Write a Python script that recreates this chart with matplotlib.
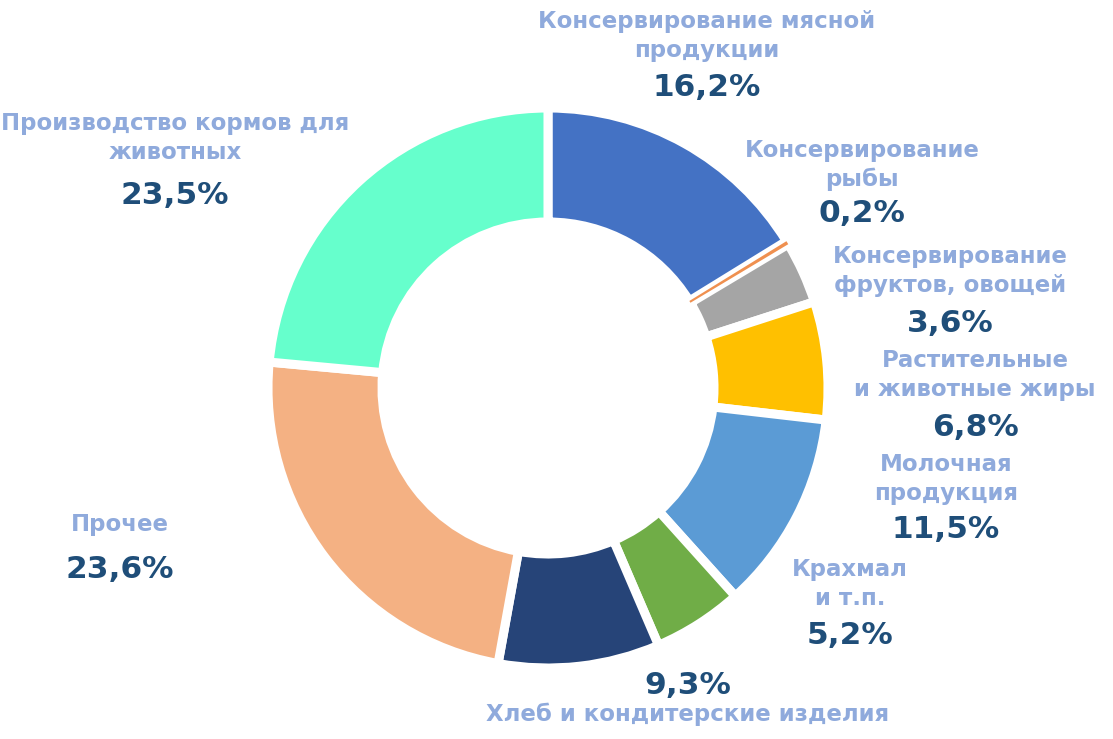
import matplotlib.pyplot as plt

categories = ['Консервирование мясной\nпродукции', 'Консервирование\nрыбы',
              'Консервирование\nфруктов, овощей', 'Растительные\nи животные жиры',
              'Молочная\nпродукция', 'Крахмал\nи т.п.', 'Хлеб и кондитерские изделия',
              'Прочее', 'Производство кормов для\nживотных']
shares = [16.2, 0.2, 3.6, 6.8, 11.5, 5.2, 9.3, 23.6, 23.5]
colors = ['#4472C4', '#ED7D31', '#A5A5A5', '#FFC000', '#5B9BD5',
          '#70AD47', '#264478', '#F4B183', '#66FFCC']

W, H = 1113, 739
# label layout in pixels from top-left (x, y of name, y of percent)
label_pos = [(707, 36, 88), (862, 165, 213), (950, 271, 323), (975, 375, 428),
             (946, 479, 530), (850, 584, 635), (688, 714, 686), (120, 525, 570),
             (175, 138, 195)]

fig = plt.figure(figsize=(W / 100, H / 100), dpi=100)
ax = fig.add_axes([0, 0, 1, 1])

wedges, _ = ax.pie(shares, colors=colors, startangle=90, counterclock=False,
                   center=(548, H - 388), radius=280,
                   wedgeprops=dict(width=114, edgecolor='white', linewidth=6.5))
# the tiny slice sits inside the white gap as a thin line
wedges[1].set_linewidth(0)
wedges[1].set_zorder(5)
wedges[1].set_alpha(0.85)

ax.set_xlim(0, W)
ax.set_ylim(0, H)
ax.set_aspect('equal')
ax.axis('off')

for name, v, (x, yn, yp) in zip(categories, shares, label_pos):
    ax.text(x, H - yn, name, ha='center', va='center', fontsize=16.5, fontweight='bold',
            color='#8FAADC', linespacing=1.3)
    ax.text(x, H - yp, f'{v:.1f}%'.replace('.', ','), ha='center', va='center',
            fontsize=22.5, fontweight='bold', color='#1F4E79')

fig.savefig('out.png', dpi=100)
